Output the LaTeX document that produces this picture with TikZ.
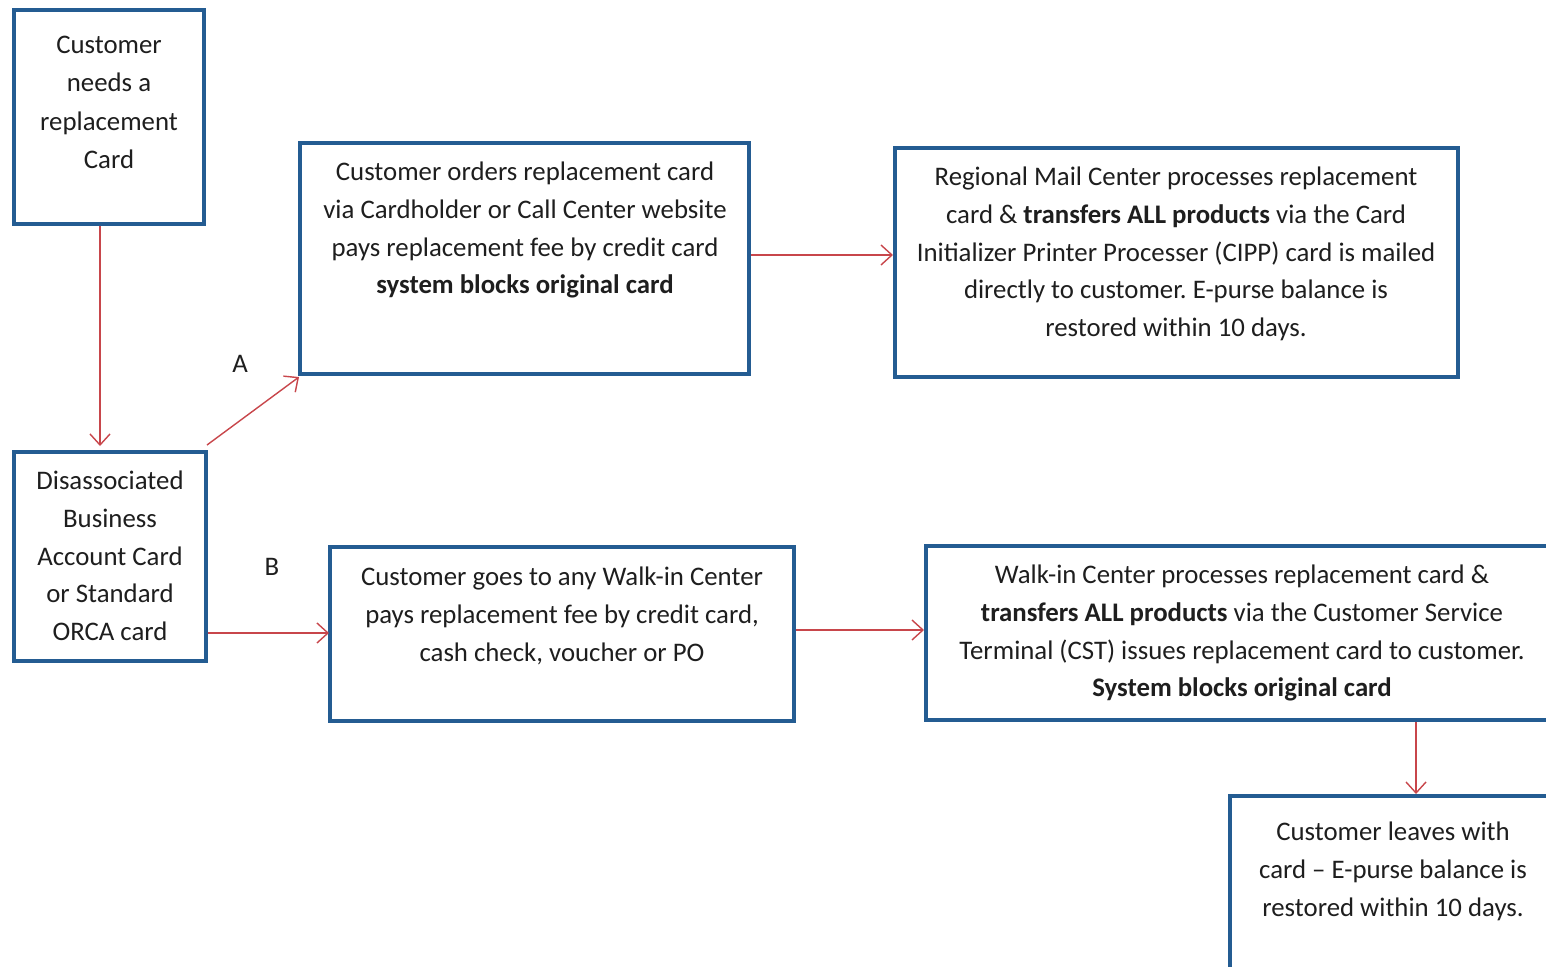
\documentclass[tikz,border=0pt]{standalone}
\usepackage{fontspec}
\setmainfont{Carlito}
\frenchspacing
\usetikzlibrary{arrows.meta}
\definecolor{boxblue}{RGB}{36,92,146}
\definecolor{arrred}{RGB}{200,70,75}
\definecolor{txtcol}{RGB}{30,30,30}
\begin{document}
\begin{tikzpicture}[x=1pt,y=-1pt,
  box/.style={draw=boxblue,line width=4pt,rectangle,inner sep=0pt},
  txt/.style={anchor=north,align=center,inner sep=0pt,text=txtcol,font=\fontsize{26.8}{37.6}\selectfont},
  conn/.style={draw=arrred,line width=1.4pt,-{Straight Barb[length=11pt,width=20pt,line width=1.4pt]}},
  lbl/.style={font=\fontsize{26.8}{30}\selectfont,inner sep=0pt,text=txtcol}]
\useasboundingbox (0,0) rectangle (1546,966);
\clip (0,0) rectangle (1546,966);
\fill[white] (0,0) rectangle (1546,966);
% boxes
\node[box,minimum width=190pt,minimum height=214pt] (b1) at (109,117) {};
\node[box,minimum width=192pt,minimum height=209pt] (b2) at (110,556.5) {};
\node[box,minimum width=449pt,minimum height=231pt] (b3) at (524.5,258.5) {};
\node[box,minimum width=563pt,minimum height=229pt] (b4) at (1176.5,262.5) {};
\node[box,minimum width=464pt,minimum height=174pt] (b5) at (562,634) {};
\node[box,minimum width=674pt,minimum height=174pt] (b6) at (1263,633) {};
\node[box,minimum width=370pt,minimum height=204pt] (b7) at (1415,898) {};
% texts
\node[txt,font=\fontsize{26.8}{38.3}\selectfont] (t1) at (109,36) {Customer\\needs a\\replacement\\Card};
\node[txt] (t2) at (110,471) {Disassociated\\Business\\Account Card\\or Standard\\ORCA card};
\node[txt] (t3) at (525,162) {Customer orders replacement card\\via Cardholder or Call Center website\\pays replacement fee by credit card\\\textbf{system blocks original card}};
\node[txt] (t4) at (1176,167) {Regional Mail Center processes replacement\\card \& \textbf{transfers ALL products} via the Card\\Initializer Printer Processer (CIPP) card is mailed\\directly to customer. E-purse balance is\\restored within 10 days.};
\node[txt] (t5) at (562,567) {Customer goes to any Walk-in Center\\pays replacement fee by credit card,\\cash check, voucher or PO};
\node[txt] (t6) at (1242,565) {Walk-in Center processes replacement card \&\\\textbf{transfers ALL products} via the Customer Service\\Terminal (CST) issues replacement card to customer.\\\textbf{System blocks original card}};
\node[txt] (t7) at (1393,822) {Customer leaves with\\card -- E-purse balance is\\restored within 10 days.};
% labels
\node[lbl] (la) at (240,364) {A};
\node[lbl] (lb) at (272,567) {B};
% connectors
\coordinate (c1s) at (100,226);
\coordinate (c1e) at (100,446);
\draw[conn] (c1s) -- (c1e);
\coordinate (c2s) at (207,445);
\coordinate (c2e) at (299,377);
\draw[conn] (c2s) -- (c2e);
\coordinate (c3s) at (208,633);
\coordinate (c3e) at (329,633);
\draw[conn] (c3s) -- (c3e);
\coordinate (c4s) at (751,255);
\coordinate (c4e) at (893,255);
\draw[conn] (c4s) -- (c4e);
\coordinate (c5s) at (796,630);
\coordinate (c5e) at (924,630);
\draw[conn] (c5s) -- (c5e);
\coordinate (c6s) at (1416,722);
\coordinate (c6e) at (1416,794);
\draw[conn] (c6s) -- (c6e);
\end{tikzpicture}
\end{document}
